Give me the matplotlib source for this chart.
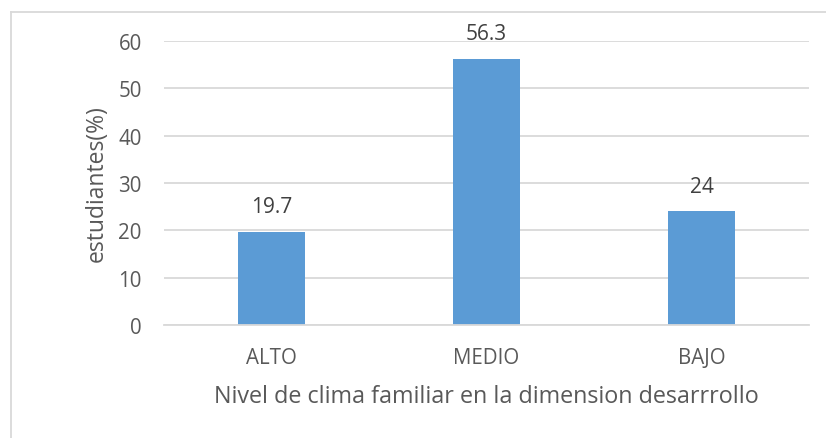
import matplotlib.pyplot as plt
from matplotlib.lines import Line2D

categories = ["ALTO", "MEDIO", "BAJO"]
values = [19.7, 56.3, 24]
value_labels = ["19.7", "56.3", "24"]
y_ticks = [0, 10, 20, 30, 40, 50, 60]

plt.rcParams["font.family"] = ["Open Sans", "DejaVu Sans"]

W, H = 826, 439
fig = plt.figure(figsize=(W / 100, H / 100), dpi=100)
ax = fig.add_axes([164 / W, 1 - 326 / H, 645 / W, (326 - 42) / H])

text_color = "#595959"
grid_color = "#D9D9D9"

x = list(range(len(categories)))
ax.bar(x, values, width=0.31, color="#5B9BD5", zorder=3)

for xi, v, lab in zip(x, values, value_labels):
    ax.annotate(lab, (xi, v), xytext=(0, 18), textcoords="offset points",
                ha="center", va="center", fontsize=15, color="#404040")

ax.set_xlim(-0.5, len(categories) - 0.5)
ax.set_ylim(0, 60)
ax.set_yticks(y_ticks)
ax.set_xticks(x)
ax.set_xticklabels(categories)
ax.tick_params(axis="both", length=0, labelsize=14.8, colors=text_color)
ax.tick_params(axis="y", pad=16)
ax.tick_params(axis="x", pad=16)

ax.grid(axis="y", color=grid_color, linewidth=1.3, zorder=0)
for side in ["top", "right", "left"]:
    ax.spines[side].set_visible(False)
ax.spines["bottom"].set_color(grid_color)
ax.spines["bottom"].set_linewidth(1.3)
ax.spines["bottom"].set_zorder(4)

ax.set_ylabel("estudiantes(%)", fontsize=16.5, color=text_color)
ax.yaxis.set_label_coords((97 - 164) / 645, 0.5)
ax.set_xlabel("Nivel de clima familiar en la dimension desarrrollo",
              fontsize=16.8, color=text_color)
ax.xaxis.set_label_coords(0.5, -(397 - 326) / (326 - 42))
ax.xaxis.label.set_va("center")
ax.yaxis.label.set_va("center")

# outer chart frame (only left and top edges visible in the crop)
fig.add_artist(Line2D([10.5 / W, 10.5 / W], [0, 1 - 12.5 / H],
                      transform=fig.transFigure, color=grid_color, linewidth=1.3))
fig.add_artist(Line2D([10.5 / W, 1], [1 - 12.5 / H, 1 - 12.5 / H],
                      transform=fig.transFigure, color=grid_color, linewidth=1.3))

fig.savefig("out.png", dpi=100)
